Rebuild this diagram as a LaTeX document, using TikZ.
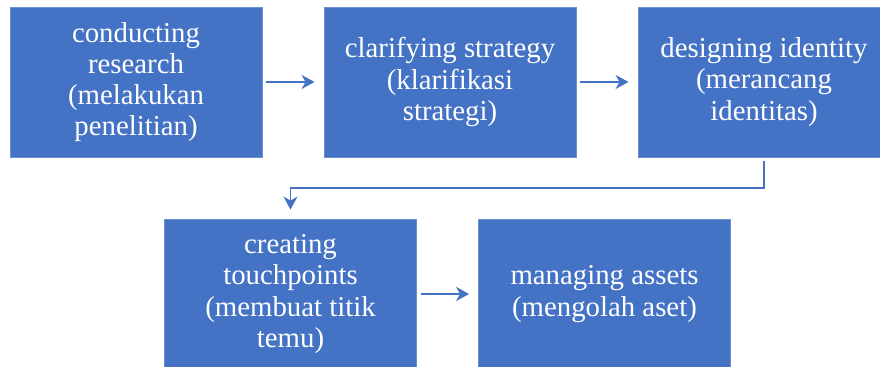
\documentclass[tikz,border=0pt]{standalone}
\usepackage{fontspec}
\setmainfont{Liberation Serif}
\usetikzlibrary{arrows.meta}

\definecolor{boxblue}{HTML}{4472C4}
\definecolor{edgeblue}{HTML}{6A8FD2}

\tikzset{
  stage/.style={draw=edgeblue, line width=0.4pt, fill=boxblue, text=white,
    minimum width=126pt, minimum height=75pt, align=center,
    font=\fontsize{14.4}{15.6}\selectfont},
  flow/.style={draw=boxblue, line width=0.9pt,
    -{Stealth[length=6.5pt, width=7pt, inset=2pt]},
    shorten <=2pt, shorten >=4.5pt}
}

\begin{document}
\begin{tikzpicture}[x=0.5pt, y=-0.5pt]
  \useasboundingbox (0,0) rectangle (880,367);

  \node[stage] (research) at (136,82) {conducting\\research\\(melakukan\\penelitian)};
  \node[stage] (strategy) at (450,82) {clarifying strategy\\(klarifikasi\\strategi)};
  \node[stage] (identity) at (764,82) {designing identity\\(merancang\\identitas)};
  \node[stage] (touch) at (290.5,294) {creating\\touchpoints\\(membuat titik\\temu)};
  \node[stage] (assets) at (604.5,294) {managing assets\\(mengolah aset)};

  \draw[flow] (research) -- (strategy);
  \draw[flow] (strategy) -- (identity);
  \draw[flow] (identity.south) -- ++(0,31) -| (touch.north);
  \draw[flow] (touch) -- (assets);
\end{tikzpicture}
\end{document}
